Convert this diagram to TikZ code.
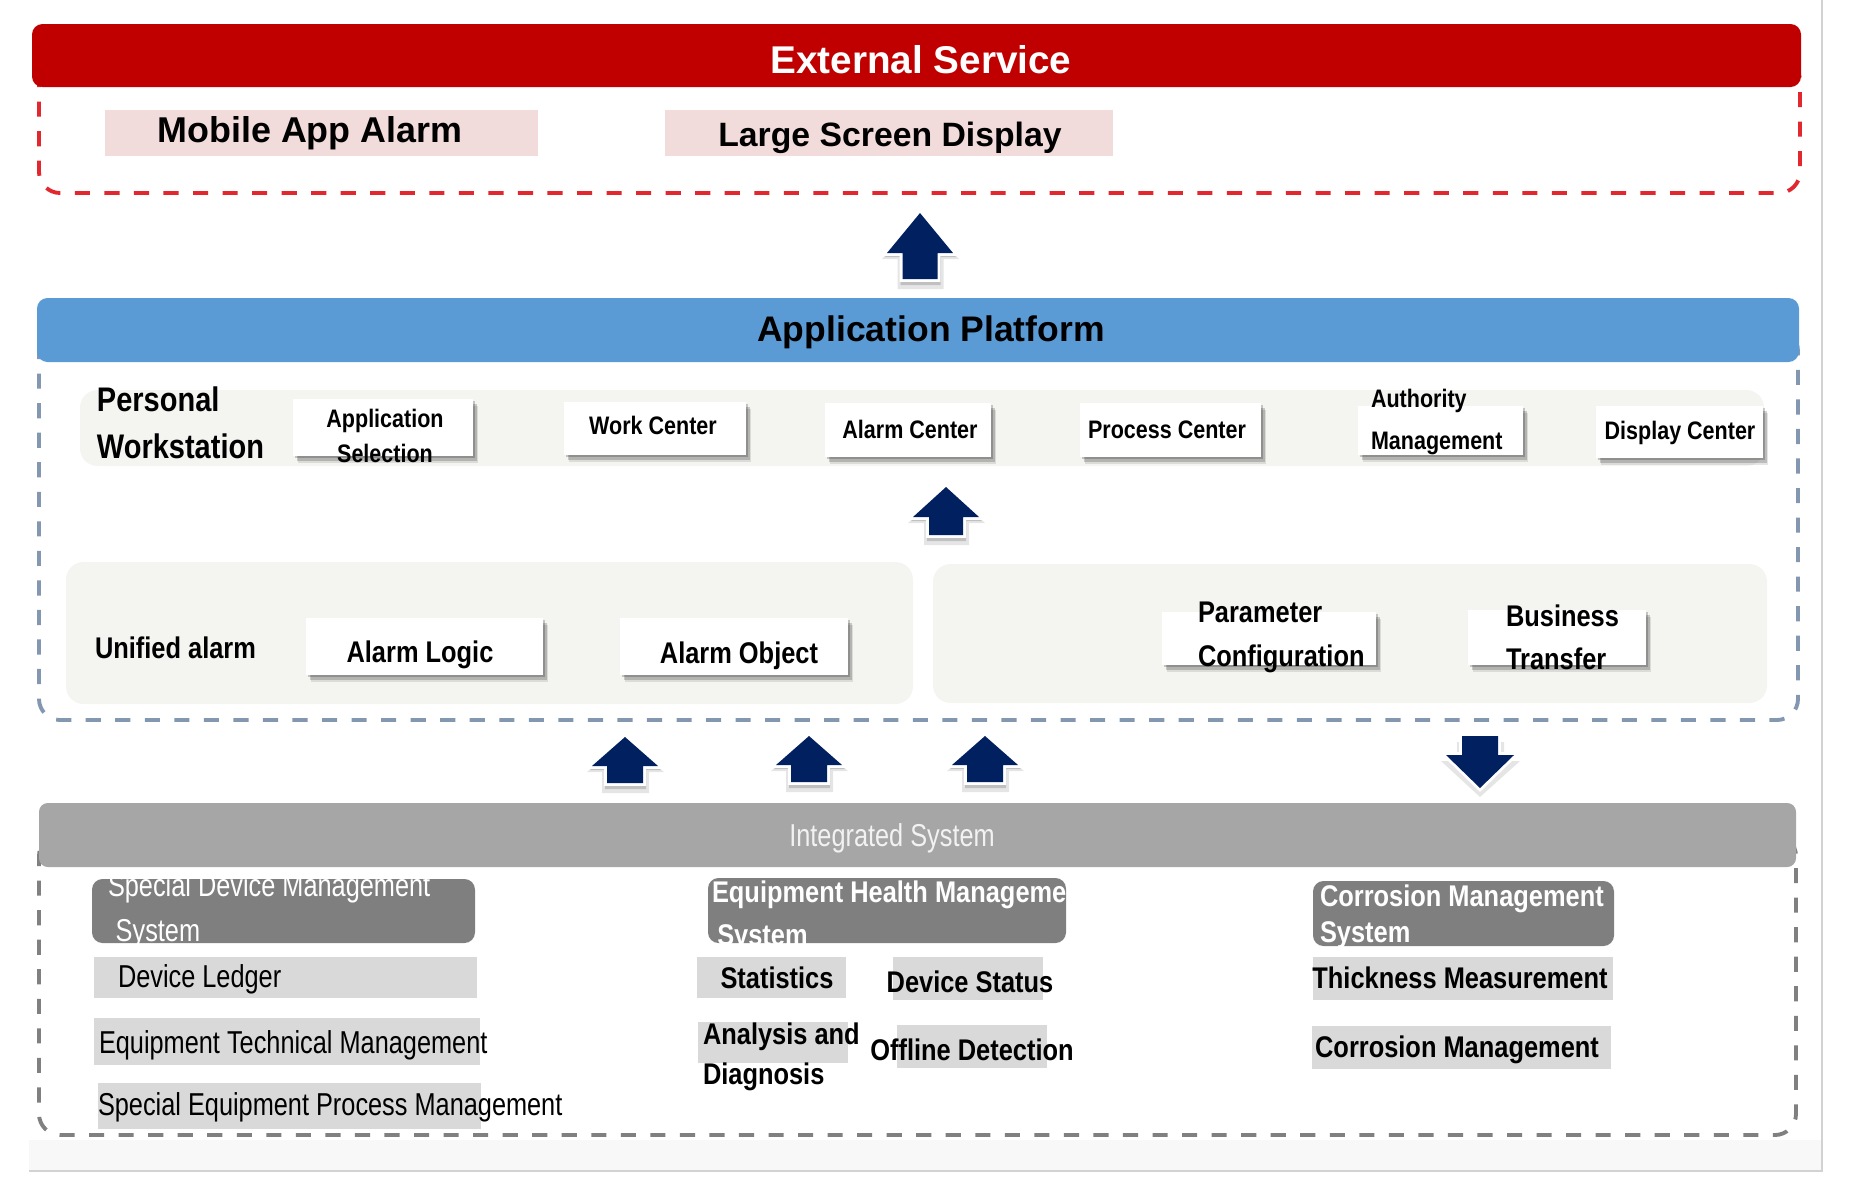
\documentclass[tikz,border=0pt]{standalone}
\usepackage{fontspec}
\setmainfont{Liberation Sans}
\newfontfamily\NarB[FakeStretch=0.85]{Liberation Sans}
\newfontfamily\NarR[FakeStretch=0.8]{Liberation Sans}
\usetikzlibrary{shadows}
\definecolor{redbar}{HTML}{C00000}
\definecolor{reddash}{HTML}{E2272F}
\definecolor{bluebar}{HTML}{5B9BD5}
\definecolor{bluedash}{HTML}{8497B0}
\definecolor{graybar}{HTML}{A6A6A6}
\definecolor{graydash}{HTML}{808080}
\definecolor{darkbox}{HTML}{7F7F7F}
\definecolor{lightbox}{HTML}{D9D9D9}
\definecolor{pinkbox}{HTML}{F2DCDB}
\definecolor{panel}{HTML}{F4F4F1}
\definecolor{navy}{HTML}{002060}
\definecolor{edge}{HTML}{D2D2D2}
\definecolor{strip}{HTML}{F8F8F8}
\newcommand\mkbox[6]{\node[#2, minimum width={(#5-#3)*0.01cm}, minimum height={(#6-#4)*0.01cm}, inner sep=0pt, outer sep=0pt] (#1) at ({(#3+#5)/2},{(#4+#6)/2}) {};}
% block arrow pointing up: x, tip y, head base y, bottom y, head half width, shaft half width
\newcommand\blkup[6]{%
  \fill[black, opacity=0.10] ({#1-#5-5},{#3+6}) -- ({#1},{#2+3}) -- ({#1+#5+6},{#3+6}) -- ({#1+#6+6},{#3+6}) -- ({#1+#6+6},{#4+10}) -- ({#1-#6-5},{#4+10}) -- ({#1-#6-5},{#3+6}) -- cycle;
  \fill[black, opacity=0.16] ({#1-#5-2},{#3+4}) -- ({#1},{#2+3}) -- ({#1+#5+3},{#3+4}) -- ({#1+#6+3},{#3+4}) -- ({#1+#6+3},{#4+6}) -- ({#1-#6-2},{#4+6}) -- ({#1-#6-2},{#3+4}) -- cycle;
  \filldraw[white, line width=1.6pt, line join=miter] ({#1},{#2}) -- ({#1+#5},{#3}) -- ({#1+#6},{#3}) -- ({#1+#6},{#4}) -- ({#1-#6},{#4}) -- ({#1-#6},{#3}) -- ({#1-#5},{#3}) -- cycle;
  \fill[navy] ({#1},{#2}) -- ({#1+#5},{#3}) -- ({#1+#6},{#3}) -- ({#1+#6},{#4}) -- ({#1-#6},{#4}) -- ({#1-#6},{#3}) -- ({#1-#5},{#3}) -- cycle;
}
% block arrow pointing down: x, top y, head base y, tip y, head half width, shaft half width
\newcommand\blkdown[6]{%
  \fill[black, opacity=0.10] ({#1-#6-5},{#2+6}) -- ({#1+#6+6},{#2+6}) -- ({#1+#6+6},{#3+6}) -- ({#1+#5+6},{#3+6}) -- ({#1},{#4+9}) -- ({#1-#5-5},{#3+6}) -- ({#1-#6-5},{#3+6}) -- cycle;
  \filldraw[white, line width=1.6pt, line join=miter] ({#1-#6},{#2}) -- ({#1+#6},{#2}) -- ({#1+#6},{#3}) -- ({#1+#5},{#3}) -- ({#1},{#4}) -- ({#1-#5},{#3}) -- ({#1-#6},{#3}) -- cycle;
  \fill[navy] ({#1-#6},{#2}) -- ({#1+#6},{#2}) -- ({#1+#6},{#3}) -- ({#1+#5},{#3}) -- ({#1},{#4}) -- ({#1-#5},{#3}) -- ({#1-#6},{#3}) -- cycle;
}
\begin{document}
\begin{tikzpicture}[x=0.01cm, y=-0.01cm,
  frame/.style={draw, line width=1.1pt, dash pattern=on 4.3pt off 4.1pt, rounded corners=6pt},
  hbar/.style={rounded corners=3pt},
  pinkb/.style={fill=pinkbox},
  panelb/.style={fill=panel, rounded corners=5pt},
  wbox/.style={fill=white,
    drop shadow={shadow xshift=1.5pt, shadow yshift=-2.0pt, fill=black, opacity=0.10},
    drop shadow={shadow xshift=1.0pt, shadow yshift=-1.3pt, fill=black, opacity=0.18},
    drop shadow={shadow xshift=0.5pt, shadow yshift=-0.7pt, fill=black, opacity=0.20}},
  darkb/.style={fill=darkbox, rounded corners=3pt},
  lightb/.style={fill=lightbox},
  txt/.style={inner sep=0pt, outer sep=0pt},
  wsfont/.style={txt, font=\NarB\bfseries\fontsize{7.2}{10}\selectfont},
  nbfont/.style={txt, font=\NarB\bfseries\fontsize{8.5}{12.3}\selectfont},
  nrfont/.style={txt, font=\NarR\fontsize{9}{12.8}\selectfont}
]
\useasboundingbox (0,0) rectangle (1869,1196);
% page edge
\fill[strip] (29,1140) rectangle (1822,1171);
\draw[edge, line width=0.6pt] (29,1171) -- (1822,1171) -- (1822,0);

% ---------- External service ----------
\mkbox{extframe}{frame, draw=reddash}{39}{60}{1800}{193}
\mkbox{extbar}{hbar, fill=redbar}{32}{24}{1801}{87}
\node[txt, font=\bfseries\fontsize{11}{13}\selectfont, text=white] (extT) at (921,60) {External Service};
\mkbox{mobB}{pinkb}{105}{110}{538}{156}
\mkbox{lsdB}{pinkb}{665}{110}{1113}{156}
\node[txt, font=\bfseries\fontsize{10.2}{12}\selectfont] (mobT) at (310,133) {Mobile App Alarm};
\node[txt, font=\bfseries\fontsize{9.6}{12}\selectfont] (lsdT) at (890,138) {Large Screen Display};

% ---------- Application platform ----------
\mkbox{appframe}{frame, draw=bluedash}{39}{330}{1798}{720}
\mkbox{appbar}{hbar, fill=bluebar}{37}{298}{1799}{362}
\node[txt, font=\bfseries\fontsize{10.1}{12}\selectfont] (appT) at (931,332) {Application Platform};

\mkbox{wsband}{panelb}{80}{390}{1764}{466}
\node[txt, anchor=west, align=left, font=\NarB\bfseries\fontsize{9.7}{13.4}\selectfont] (wsT) at (97,423) {Personal\\Workstation};
\mkbox{asB}{wbox}{293}{399}{473}{456}
\node[wsfont, align=center] (asT) at (385,436) {Application\\Selection};
\mkbox{wcB}{wbox}{564}{402}{746}{455}
\node[wsfont] (wcT) at (653,425) {Work Center};
\mkbox{acB}{wbox}{825}{403}{991}{457}
\node[wsfont] (acT) at (910,429) {Alarm Center};
\mkbox{pcB}{wbox}{1080}{403}{1261}{457}
\node[wsfont] (pcT) at (1167,430) {Process Center};
\mkbox{amB}{wbox}{1358}{406}{1523}{455}
\node[wsfont, anchor=west, align=left, font=\NarB\bfseries\fontsize{7.2}{11.7}\selectfont] (amT) at (1371,422) {Authority\\Management};
\mkbox{dcB}{wbox}{1596}{406}{1763}{458}
\node[wsfont] (dcT) at (1680,433) {Display Center};

\mkbox{uaP}{panelb}{66}{562}{913}{704}
\mkbox{pcP}{panelb}{933}{564}{1767}{703}
\node[nbfont, anchor=west] (uaT) at (95,648) {Unified alarm};
\mkbox{alB}{wbox}{306}{618}{543}{675}
\node[nbfont] (alT) at (420,655) {Alarm Logic};
\mkbox{aoB}{wbox}{620}{618}{848}{675}
\node[nbfont] (aoT) at (739,656) {Alarm Object};
\mkbox{pfB}{wbox}{1162}{612}{1376}{665}
\node[nbfont, anchor=west, align=left, font=\NarB\bfseries\fontsize{8.5}{12.5}\selectfont] (pfT) at (1198,637) {Parameter\\Configuration};
\mkbox{btB}{wbox}{1468}{610}{1646}{665}
\node[nbfont, anchor=west, align=left, font=\NarB\bfseries\fontsize{8.5}{12.2}\selectfont] (btT) at (1506,637) {Business\\Transfer};

% ---------- Integrated system ----------
\mkbox{intframe}{frame, draw=graydash}{39}{835}{1796}{1135}
\mkbox{intbar}{hbar, fill=graybar, rounded corners=2.5pt}{39}{803}{1796}{867}
\node[txt, font=\NarR\fontsize{9}{11}\selectfont, text=white!95!black] (intT) at (892,838) {Integrated System};

% left column
\mkbox{sdmB}{darkb}{92}{879}{475}{943}
\begin{scope}
  \clip[rounded corners=3pt] (92,879) rectangle (475,943);
  \node[nrfont, anchor=west, align=left, text=white] (sdmT) at (108,911) {Special Device Management\\\hspace*{2.2pt}System};
\end{scope}
\mkbox{dlB}{lightb}{94}{957}{477}{998}
\node[nrfont, anchor=west] (dlT) at (118,979) {Device Ledger};
\mkbox{etmB}{lightb}{94}{1018}{480}{1065}
\node[nrfont, anchor=west] (etmT) at (99,1045) {Equipment Technical Management};
\mkbox{sepB}{lightb}{98}{1083}{481}{1129}
\node[nrfont, anchor=west] (sepT) at (98,1107) {Special Equipment Process Management};

% middle column
\mkbox{ehmB}{darkb}{708}{878}{1066}{943}
\begin{scope}
  \clip[rounded corners=3pt] (708,878) rectangle (1066,943);
  \node[nbfont, anchor=west, align=left, text=white] (ehmT) at (712,916) {Equipment Health Management\\\hspace*{1.5pt}System};
\end{scope}
\mkbox{stB}{lightb}{697}{957}{846}{998}
\node[nbfont] (stT) at (777,978) {Statistics};
\mkbox{dsB}{lightb}{893}{957}{1043}{1000}
\node[nbfont] (dsT) at (970,982) {Device Status};
\mkbox{adB}{lightb}{698}{1022}{848}{1063}
\node[nbfont, anchor=west, align=left, font=\NarB\bfseries\fontsize{8.5}{11.4}\selectfont] (adT) at (703,1057) {Analysis and\\Diagnosis};
\mkbox{odB}{lightb}{897}{1025}{1047}{1068}
\node[nbfont] (odT) at (972,1050) {Offline Detection};

% right column
\mkbox{cmsB}{darkb}{1313}{881}{1614}{946}
\begin{scope}
  \clip[rounded corners=3pt] (1313,881) rectangle (1614,946);
  \node[nbfont, anchor=west, align=left, text=white, font=\NarB\bfseries\fontsize{8.5}{10.2}\selectfont] (cmsT) at (1320,917) {Corrosion Management\\System};
\end{scope}
\mkbox{tmB}{lightb}{1313}{957}{1613}{1000}
\node[nbfont] (tmT) at (1460,978) {Thickness Measurement};
\mkbox{cmB}{lightb}{1312}{1026}{1611}{1069}
\node[nbfont] (cmT) at (1457,1050) {Corrosion Management};

% ---------- block arrows ----------
\blkup{920}{213}{253}{279}{33}{17.5}
\blkup{946}{487}{517}{535}{33}{17}
\blkup{625}{737}{766}{783}{33}{18}
\blkup{809}{736}{765}{782}{33}{18}
\blkup{985}{736}{765}{782}{33}{18}
\blkdown{1480}{736}{755}{788}{34}{18}
\end{tikzpicture}
\end{document}
